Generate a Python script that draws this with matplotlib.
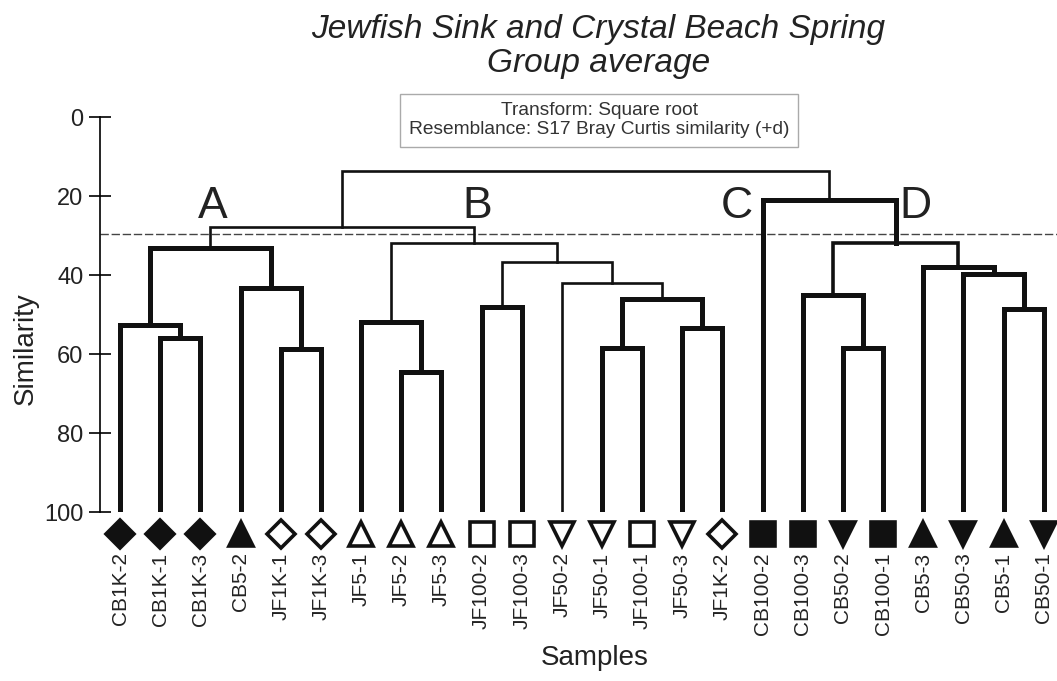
import matplotlib.pyplot as plt
import numpy as np

plt.rcParams['font.family'] = ['Liberation Sans', 'DejaVu Sans']
plt.rcParams['text.color'] = '#222222'
plt.rcParams['axes.labelcolor'] = '#222222'
plt.rcParams['ytick.labelcolor'] = '#222222'
plt.rcParams['xtick.labelcolor'] = '#222222'

# sample labels in leaf order
samples = ['CB1K-2', 'CB1K-1', 'CB1K-3', 'CB5-2', 'JF1K-1', 'JF1K-3',
           'JF5-1', 'JF5-2', 'JF5-3', 'JF100-2', 'JF100-3', 'JF50-2',
           'JF50-1', 'JF100-1', 'JF50-3', 'JF1K-2', 'CB100-2', 'CB100-3',
           'CB50-2', 'CB100-1', 'CB5-3', 'CB50-3', 'CB5-1', 'CB50-1']
groups = ['CB1K', 'CB1K', 'CB1K', 'CB5', 'JF1K', 'JF1K',
          'JF5', 'JF5', 'JF5', 'JF100', 'JF100', 'JF50',
          'JF50', 'JF100', 'JF50', 'JF1K', 'CB100', 'CB100',
          'CB50', 'CB100', 'CB5', 'CB50', 'CB5', 'CB50']

# group-average merges: leaves are 0..23, merge k becomes node 24+k
merge_left = [7, 1, 4, 12, 18, 14, 0, 6, 22, 9, 27, 17, 3, 11, 21, 20,
              33, 30, 31, 35, 41, 16, 44]
merge_right = [8, 2, 5, 13, 19, 15, 25, 24, 23, 10, 29, 28, 26, 34, 32, 38,
               37, 36, 40, 39, 42, 43, 45]
merge_sim = [64.5, 55.8, 58.7, 58.5, 58.5, 53.4, 52.7, 51.9, 48.6, 48.1,
             46.1, 45.1, 43.3, 42.0, 39.7, 38.0, 36.7, 33.2, 31.9, 31.9,
             27.8, 21.0, 13.7]
cut_level = 29.5

cluster_names = ['A', 'B', 'C', 'D']
cluster_pos = [2.3, 8.89, 15.36, 19.8]

# marker style per sample group: (marker, filled)
group_style = {'CB1K': ('D', True), 'CB5': ('^', True), 'JF1K': ('D', False),
               'JF5': ('^', False), 'JF100': ('s', False), 'JF50': ('v', False),
               'CB100': ('s', True), 'CB50': ('v', True)}
marker_size = {'D': 14.5, '^': 17.5, 'v': 17.5, 's': 17}
thin_merges = {13, 16, 18, 20, 22}

fig = plt.figure(figsize=(10.57, 6.81), dpi=100)
ax = fig.add_axes([0.0946, 0.248, 0.9054, 0.58])

n = len(samples)
xpos = {i: float(i) for i in range(n)}
ypos = {i: 100.0 for i in range(n)}
for k, (l, r, s) in enumerate(zip(merge_left, merge_right, merge_sim)):
    lw = 1.9 if k in thin_merges else 3.6
    if k == 19:
        lw = 2.6
    ax.plot([xpos[l], xpos[l], xpos[r], xpos[r]],
            [ypos[l], s, s, ypos[r]], color='#111111', lw=lw,
            solid_capstyle='projecting', solid_joinstyle='miter', zorder=3)
    xpos[n + k] = (xpos[l] + xpos[r]) / 2
    ypos[n + k] = s

for i, g in enumerate(groups):
    m, filled = group_style[g]
    ax.plot(i, 105.6, marker=m, ms=marker_size[m],
            mfc='#111111' if filled else 'white',
            mec='#111111', mew=2.6, clip_on=False, zorder=4)

ax.axhline(cut_level, color='#444444', lw=1.0, ls=(0, (6, 2)), zorder=2)

for name, xp in zip(cluster_names, cluster_pos):
    ax.text(xp, 25.6, name, fontsize=32, ha='center', va='baseline')

fig.text(0.5667, 0.8235, 'Transform: Square root\nResemblance: S17 Bray Curtis similarity (+d)',
         ha='center', va='center', fontsize=13.8, linespacing=1.12, color='#333333',
         bbox=dict(boxstyle='square,pad=0.45', fc='white', ec='#aaaaaa', lw=1))

ax.set_xlim(-0.5, 23.33)
ax.set_ylim(100, 0)
ax.set_yticks([0, 20, 40, 60, 80, 100])
ax.tick_params(axis='y', direction='inout', length=16, width=1.2, labelsize=17, pad=4)
ax.set_xticks(range(n))
ax.set_xticklabels(samples, rotation=90, fontsize=15)
ax.tick_params(axis='x', length=0, pad=29)
for side in ['top', 'right', 'bottom']:
    ax.spines[side].set_visible(False)
ax.spines['left'].set_linewidth(1.2)
ax.spines['left'].set_bounds(0, 100)
ax.set_ylabel('Similarity', fontsize=20, labelpad=4, y=0.415)
ax.set_xlabel('Samples', fontsize=20, labelpad=7, x=0.517)

fig.text(0.566, 0.979, 'Jewfish Sink and Crystal Beach Spring\nGroup average',
         ha='center', va='top', fontsize=24, style='italic', linespacing=1.1)

fig.savefig('out.png', dpi=100)
